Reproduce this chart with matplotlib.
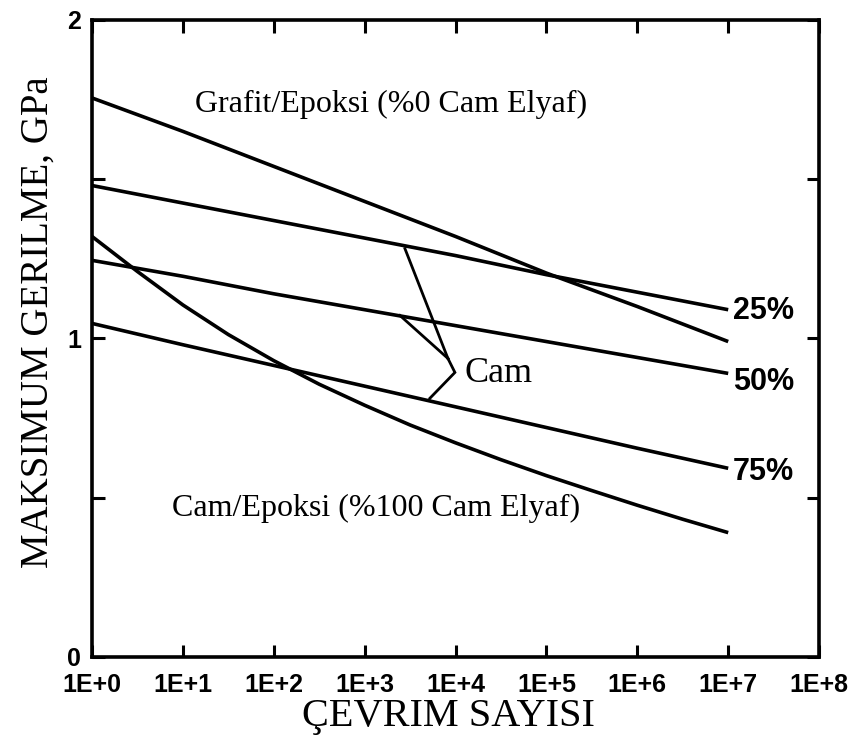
import matplotlib
matplotlib.use("Agg")
import matplotlib.pyplot as plt

# ---- data (x in decades of cycles, y in GPa) ----
decades = [0, 1, 2, 3, 4, 5, 6, 7]
graphite = [1.755, 1.65, 1.54, 1.43, 1.32, 1.205, 1.10, 0.99]
glass25 = [1.48, 1.425, 1.37, 1.315, 1.26, 1.20, 1.145, 1.09]
glass50 = [1.245, 1.195, 1.14, 1.09, 1.04, 0.99, 0.94, 0.89]
glass75 = [1.047, 0.98, 0.915, 0.85, 0.785, 0.72, 0.655, 0.592]

glass100_x = [0, 0.5, 1, 1.5, 2, 2.5, 3, 3.5, 4, 4.5, 5, 5.5, 6, 6.5, 7]
glass100_y = [1.32, 1.21, 1.105, 1.012, 0.93, 0.856, 0.79, 0.728, 0.672,
              0.619, 0.569, 0.522, 0.476, 0.432, 0.39]

cam_upper_x = [3.443, 3.916]
cam_upper_y = [1.282, 0.937]
cam_mid_x = [3.388, 3.916]
cam_mid_y = [1.072, 0.937]
cam_lower_x = [3.916, 3.993, 3.718]
cam_lower_y = [0.937, 0.893, 0.812]

xtick_pos = [0, 1, 2, 3, 4, 5, 6, 7, 8]
xtick_labels = ["1E+0", "1E+1", "1E+2", "1E+3", "1E+4", "1E+5", "1E+6", "1E+7", "1E+8"]
ytick_pos = [0, 0.5, 1, 1.5, 2]
ytick_labels = ["0", "", "1", "", "2"]

pct_labels = ["25%", "50%", "75%"]
pct_y = [1.085, 0.862, 0.58]

serif = "Liberation Serif"
sans = "Liberation Sans"

fig = plt.figure(figsize=(8.55, 7.38), dpi=100)
ax = fig.add_axes([0.1076, 0.110, 0.8504, 0.863])

lw = 2.6
for ys in (graphite, glass25, glass50, glass75):
    ax.plot(decades, ys, color="black", lw=lw, solid_capstyle="butt")
ax.plot(glass100_x, glass100_y, color="black", lw=lw, solid_capstyle="butt",
        solid_joinstyle="round")

for xs, ys in ((cam_upper_x, cam_upper_y), (cam_mid_x, cam_mid_y), (cam_lower_x, cam_lower_y)):
    ax.plot(xs, ys, color="black", lw=2.0, solid_joinstyle="miter")

ax.set_xlim(0, 8)
ax.set_ylim(0, 2)

ax.set_xticks(xtick_pos)
ax.set_xticklabels(xtick_labels, fontfamily=sans, fontweight="bold", fontsize=18)
ax.set_yticks(ytick_pos)
ax.set_yticklabels(ytick_labels, fontfamily=sans, fontweight="bold", fontsize=18)
ax.tick_params(axis="both", direction="in", length=9, width=2.2, top=True, right=True)
ax.tick_params(axis="x", pad=12)
ax.tick_params(axis="y", pad=8)

for s in ax.spines.values():
    s.set_linewidth(2.6)

ax.set_xlabel("ÇEVRIM SAYISI", fontfamily=serif, fontsize=29, va="center")
ax.xaxis.set_label_coords(0.49, -0.094)
ax.set_ylabel("MAKSIMUM GERILME, GPa", fontfamily=serif, fontsize=28, va="center")
ax.yaxis.set_label_coords(-0.074, 0.526)

ax.text(1.13, 1.735, "Grafit/Epoksi (%0 Cam Elyaf)", fontfamily=serif, fontsize=23,
        ha="left", va="center")
ax.text(0.88, 0.465, "Cam/Epoksi (%100 Cam Elyaf)", fontfamily=serif, fontsize=23,
        ha="left", va="center")
ax.text(4.1, 0.89, "Cam", fontfamily=serif, fontsize=26, ha="left", va="center")

for lab, y in zip(pct_labels, pct_y):
    ax.text(7.05, y, lab, fontfamily=sans, fontweight="bold", fontsize=22,
            ha="left", va="center")

fig.savefig("out.png", dpi=100)
